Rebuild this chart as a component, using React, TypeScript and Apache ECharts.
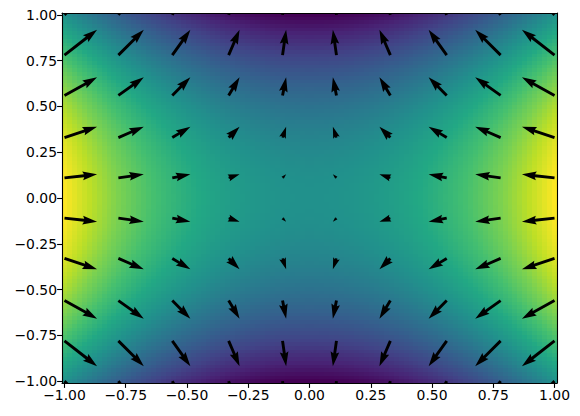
import React, { useEffect, useRef } from "react";
import * as echarts from "echarts";

// Colour-field profile read along the axes, from edge (-1) to edge (+1)
const fieldProfile = [
  1.0, 0.96, 0.921, 0.882, 0.845, 0.808, 0.772, 0.737, 0.703, 0.669,
  0.637, 0.605, 0.574, 0.544, 0.514, 0.486, 0.458, 0.431, 0.405, 0.38,
  0.355, 0.332, 0.309, 0.287, 0.265, 0.245, 0.225, 0.207, 0.189, 0.171,
  0.155, 0.14, 0.125, 0.111, 0.098, 0.086, 0.074, 0.064, 0.054, 0.045,
  0.037, 0.029, 0.023, 0.017, 0.012, 0.008, 0.005, 0.003, 0.001, 0.0,
  0.0, 0.001, 0.003, 0.005, 0.008, 0.012, 0.017, 0.023, 0.029, 0.037,
  0.045, 0.054, 0.064, 0.074, 0.086, 0.098, 0.111, 0.125, 0.14, 0.155,
  0.171, 0.189, 0.207, 0.225, 0.245, 0.265, 0.287, 0.309, 0.332, 0.355,
  0.38, 0.405, 0.431, 0.458, 0.486, 0.514, 0.544, 0.574, 0.605, 0.637,
  0.669, 0.703, 0.737, 0.772, 0.808, 0.845, 0.882, 0.921, 0.96, 1.0,
];

const arrowX = [-1, -0.78, -0.56, -0.33, -0.11, 0.11, 0.33, 0.56, 0.78, 1];
const arrowY = [-1, -0.78, -0.56, -0.33, -0.11, 0.11, 0.33, 0.56, 0.78, 1];
const arrowU = [2, 1.56, 1.11, 0.67, 0.22, -0.22, -0.67, -1.11, -1.56, -2];
const arrowV = [-2, -1.56, -1.11, -0.67, -0.22, 0.22, 0.67, 1.11, 1.56, 2];

const tickValues = [-1, -0.75, -0.5, -0.25, 0, 0.25, 0.5, 0.75, 1];
const viridis = [
  "#440154", "#482475", "#414487", "#355f8d", "#2a788e", "#21918c",
  "#22a884", "#44bf70", "#7ad151", "#bddf26", "#fde725",
];

const AXIS_LIMIT = 1.0101;
const CELL_HALF = 1 / 99;
const PX_PER_UNIT = 16.3;
const SHAFT = 2.9;

const cellData: number[][] = [];
fieldProfile.forEach((cx, i) => {
  fieldProfile.forEach((cy, j) => {
    cellData.push([-1 + (i * 2) / 99, -1 + (j * 2) / 99, cx - cy]);
  });
});

const arrowData: number[][] = [];
arrowX.forEach((x, i) => {
  arrowY.forEach((y, j) => {
    arrowData.push([x, y, arrowU[i], arrowV[j]]);
  });
});

const fmt = (v: number) => v.toFixed(2).replace("-", "\u2212");
const labelStyle = { fontFamily: "DejaVu Sans", fontSize: 13.9, color: "#000" };

function mainAxis(position: string) {
  return {
    type: "value",
    position,
    min: -AXIS_LIMIT,
    max: AXIS_LIMIT,
    z: 10,
    splitLine: { show: false },
    axisLine: { show: true, onZero: false, lineStyle: { color: "#000", width: 1.1 } },
    axisTick: {
      show: true,
      length: 4.9,
      customValues: tickValues,
      lineStyle: { color: "#000", width: 1.1 },
    },
    axisLabel: {
      ...labelStyle,
      margin: 5,
      customValues: tickValues,
      formatter: fmt,
      showMinLabel: true,
      showMaxLabel: true,
      hideOverlap: false,
    },
  };
}

function borderAxis(position: string) {
  return {
    type: "value",
    position,
    min: -AXIS_LIMIT,
    max: AXIS_LIMIT,
    z: 10,
    splitLine: { show: false },
    axisLine: { show: true, onZero: false, lineStyle: { color: "#000", width: 1.1 } },
    axisTick: { show: false },
    axisLabel: { show: false },
  };
}

function renderCell(_: any, api: any) {
  const x = api.value(0);
  const y = api.value(1);
  const a = api.coord([x - CELL_HALF, y + CELL_HALF]);
  const b = api.coord([x + CELL_HALF, y - CELL_HALF]);
  const left = Math.round(a[0]);
  const top = Math.round(a[1]);
  return {
    type: "rect",
    shape: { x: left, y: top, width: Math.round(b[0]) - left, height: Math.round(b[1]) - top },
    style: { fill: api.visual("color") },
    silent: true,
  };
}

function renderArrow(_: any, api: any) {
  const tail = api.coord([api.value(0), api.value(1)]);
  const dx = api.value(2) * PX_PER_UNIT;
  const dy = -api.value(3) * PX_PER_UNIT;
  const len = Math.hypot(dx, dy);
  const headLen = 5 * SHAFT;
  const headAxis = 4.5 * SHAFT;
  const s = len < headLen ? len / headLen : 1;
  const sw = (s * SHAFT) / 2;
  const hw = (s * 3 * SHAFT) / 2;
  const neck = len - s * headAxis;
  const back = len - s * headLen;
  const ux = dx / len;
  const uy = dy / len;
  const pt = (t: number, n: number) => [tail[0] + ux * t - uy * n, tail[1] + uy * t + ux * n];
  return {
    type: "polygon",
    shape: {
      points: [
        pt(0, sw), pt(neck, sw), pt(back, hw), pt(len, 0),
        pt(back, -hw), pt(neck, -sw), pt(0, -sw),
      ],
    },
    style: { fill: "#000" },
    silent: true,
  };
}

export default function App() {
  const ref = useRef<HTMLDivElement>(null);
  useEffect(() => {
    const chart = echarts.init(ref.current!, undefined, { renderer: "svg" });
    chart.setOption({
      animation: false,
      backgroundColor: "#fff",
      grid: { left: 62, right: 23, top: 13, bottom: 33, containLabel: false },
      xAxis: [mainAxis("bottom"), borderAxis("top")],
      yAxis: [mainAxis("left"), borderAxis("right")],
      visualMap: {
        show: false,
        type: "continuous",
        min: -1,
        max: 1,
        dimension: 2,
        seriesIndex: 0,
        inRange: { color: viridis },
      },
      series: [
        {
          type: "custom",
          renderItem: renderCell,
          data: cellData,
          encode: { x: 0, y: 1 },
          clip: true,
          progressive: 0,
          silent: true,
          z: 1,
        },
        {
          type: "custom",
          renderItem: renderArrow,
          data: arrowData,
          encode: { x: 0, y: 1 },
          clip: true,
          progressive: 0,
          silent: true,
          z: 2,
        },
      ],
    });
    return () => chart.dispose();
  }, []);
  return <div ref={ref} style={{ position: "absolute", left: 0, top: 0, width: 580, height: 416 }} />;
}
